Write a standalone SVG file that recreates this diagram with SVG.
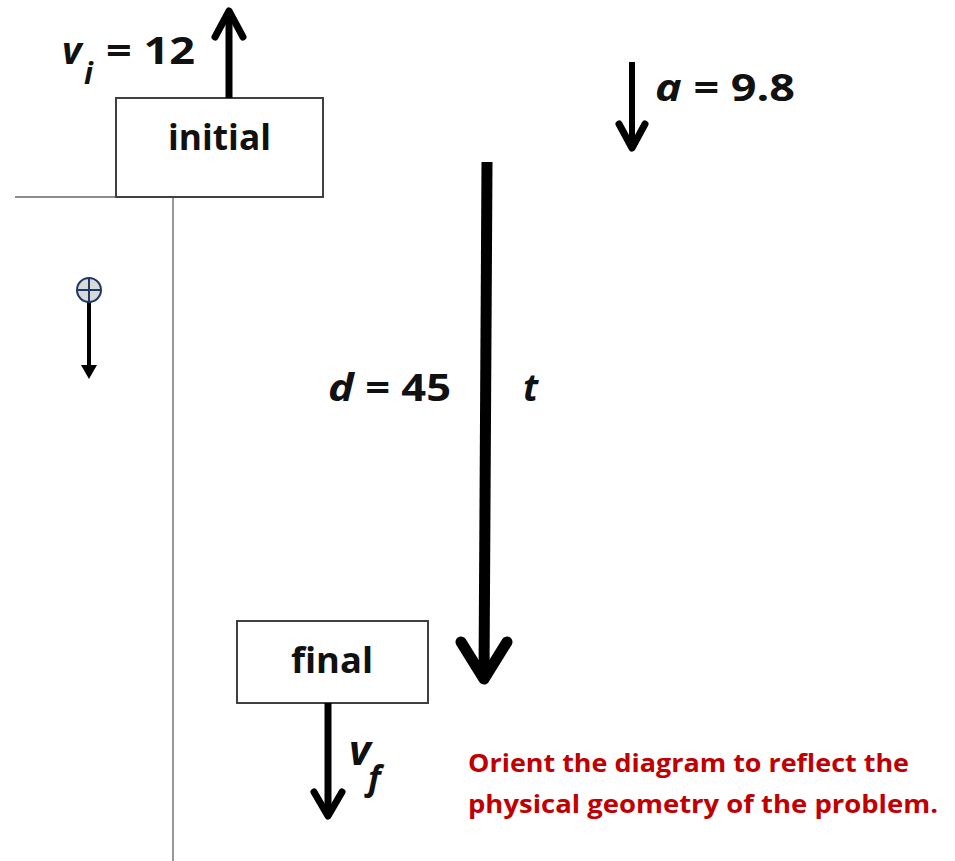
<svg xmlns="http://www.w3.org/2000/svg" width="955" height="861" viewBox="0 0 955 861">
<style>
.box{fill:#fff;stroke:#404040;stroke-width:2}
.lbl{font-family:"Open Sans","Liberation Sans",sans-serif;font-weight:bold;fill:#111}
.it{font-style:italic}
.shaft{stroke:#000;fill:none;stroke-linecap:butt}
.head{stroke:#000;fill:none;stroke-linecap:round;stroke-linejoin:round}
.note{font-family:"Open Sans","Liberation Sans",sans-serif;font-weight:bold;fill:#c00000;font-size:25px}
</style>
<rect width="955" height="861" fill="#fff"/>
<g id="axes">
<line x1="15" y1="197" x2="116" y2="197" stroke="#666" stroke-width="1.5"/>
<line x1="173" y1="197" x2="173" y2="861" stroke="#777" stroke-width="1.5"/>
</g>
<g id="initial">
<rect class="box" x="116" y="98" width="207" height="99"/>
<text class="lbl" x="168" y="150" font-size="35" textLength="103" lengthAdjust="spacingAndGlyphs">initial</text>
</g>
<g id="final">
<rect class="box" x="237" y="621" width="191" height="82"/>
<text class="lbl" x="291" y="673" font-size="35" textLength="82" lengthAdjust="spacingAndGlyphs">final</text>
</g>
<g id="connectors">
<g id="vi-arrow">
<line class="shaft" x1="229" y1="98" x2="229" y2="14" stroke-width="7"/>
<polyline class="head" points="215,37 229,11 243,37" stroke-width="7"/>
</g>
<g id="a-arrow">
<line class="shaft" x1="632" y1="62" x2="632" y2="146" stroke-width="6"/>
<polyline class="head" points="619,124 632,148 645,124" stroke-width="7"/>
</g>
<g id="d-arrow">
<line class="shaft" x1="487" y1="162" x2="484" y2="676" stroke-width="11"/>
<polyline class="head" points="461,642 484,679 507,642" stroke-width="11"/>
</g>
<g id="vf-arrow">
<line class="shaft" x1="328" y1="703" x2="328" y2="812" stroke-width="7"/>
<polyline class="head" points="314,792 328,816 342,792" stroke-width="7"/>
</g>
<g id="sign-arrow">
<line x1="89" y1="302" x2="89" y2="366" stroke="#000" stroke-width="4"/>
<polygon points="81,365 97,365 89,379" fill="#000"/>
</g>
</g>
<g id="sign">
<circle cx="89" cy="290" r="12" fill="#d9d9d9" stroke="#1f3864" stroke-width="2"/>
<line x1="77" y1="290" x2="101" y2="290" stroke="#1f3864" stroke-width="2"/>
<line x1="89" y1="278" x2="89" y2="302" stroke="#1f3864" stroke-width="2"/>
</g>
<g id="labels">
<text class="lbl it" x="62" y="64" font-size="38">v</text>
<text class="lbl it" x="84" y="84" font-size="30">i</text>
<text class="lbl" x="106" y="64" font-size="37" textLength="89" lengthAdjust="spacingAndGlyphs">= 12</text>
<text class="lbl" x="655" y="101" font-size="37" textLength="140" lengthAdjust="spacingAndGlyphs"><tspan class="it">a</tspan> = 9.8</text>
<text class="lbl" x="328" y="401" font-size="37" textLength="123" lengthAdjust="spacingAndGlyphs"><tspan class="it">d</tspan> = 45</text>
<text class="lbl it" x="523" y="401" font-size="37">t</text>
<text class="lbl it" x="349" y="765" font-size="42">v</text>
<text class="lbl it" x="368" y="790" font-size="34">f</text>
</g>
<g id="note">
<text class="note" x="468" y="772" textLength="441" lengthAdjust="spacingAndGlyphs">Orient the diagram to reflect the</text>
<text class="note" x="468" y="813" textLength="470" lengthAdjust="spacingAndGlyphs">physical geometry of the problem.</text>
</g>
</svg>
